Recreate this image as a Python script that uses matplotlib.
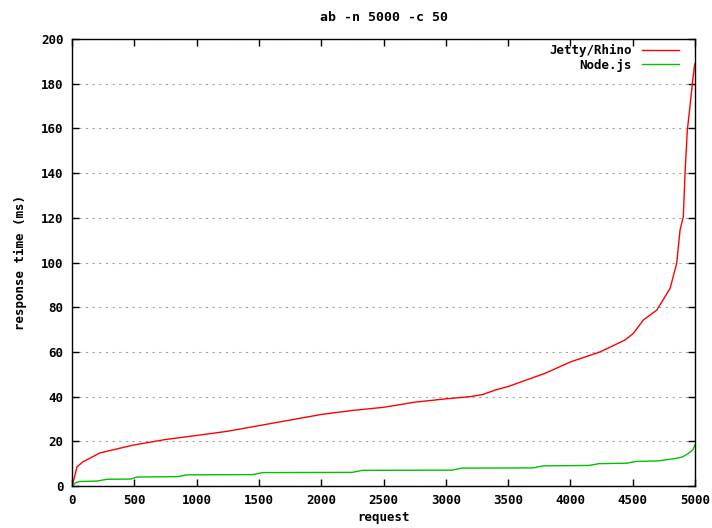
import matplotlib.pyplot as plt

# response time curves (requests sorted by time)
jetty_x = [0, 20, 40, 90, 225, 490, 750, 1027, 1250, 1500, 1750, 2000, 2250, 2500,
           2750, 3000, 3200, 3300, 3400, 3500, 3600, 3800, 4000, 4238, 4438, 4505,
           4586, 4693, 4800, 4853, 4880, 4906, 4920, 4938, 4960, 4982, 4995, 5000]
jetty_y = [0, 4, 8.6, 10.9, 14.8, 18.3, 20.8, 22.8, 24.5, 27, 29.5, 32, 33.8, 35.2,
           37.5, 39, 40, 41, 43, 44.5, 46.5, 50.5, 55.5, 60, 65.3, 68.3,
           74.3, 78.7, 88.4, 99.6, 114.5, 120.5, 140, 159, 170, 181.6, 187.6, 189]

node_x = [0, 30, 60, 200, 280, 470, 520, 850, 920, 1450, 1530, 2250, 2330, 3050,
          3130, 3700, 3780, 4150, 4230, 4450, 4530, 4700, 4780, 4853, 4900, 4947,
          4980, 5000]
node_y = [0, 1.5, 2, 2.2, 3, 3.1, 4, 4.2, 5, 5.1, 6, 6.1, 7, 7.1,
          8, 8.1, 9, 9.2, 10, 10.2, 11, 11.2, 11.8, 12.4, 13, 14.6,
          16, 18.3]

xticks = [0, 500, 1000, 1500, 2000, 2500, 3000, 3500, 4000, 4500, 5000]
yticks = [0, 20, 40, 60, 80, 100, 120, 140, 160, 180, 200]

plt.rcParams['font.family'] = 'DejaVu Sans Mono'
plt.rcParams['font.weight'] = 'bold'
plt.rcParams['font.size'] = 9

fig = plt.figure(figsize=(7.12, 5.28), dpi=100)
ax = fig.add_axes([72 / 712, 42 / 528, 623 / 712, 447 / 528])

ax.plot(jetty_x, jetty_y, color='#ff0000', lw=1, label='Jetty/Rhino')
ax.plot(node_x, node_y, color='#00c000', lw=1, label='Node.js')

ax.set_xlim(0, 5000)
ax.set_ylim(0, 200)
ax.set_xticks(xticks)
ax.set_yticks(yticks)
ax.tick_params(direction='in', top=True, right=True, length=5, width=1, pad=6)
for s in ax.spines.values():
    s.set_linewidth(1)

# gnuplot style dotted grid, horizontal only
ax.yaxis.grid(True, linestyle=(0, (2, 4)), color='#a0a0a0', lw=0.8)
ax.set_axisbelow(True)

ax.set_title('ab -n 5000 -c 50', fontweight='bold', fontsize=9.5, pad=13)
ax.set_xlabel('request', fontweight='bold', labelpad=3)
ax.set_ylabel('response time (ms)', fontweight='bold', labelpad=10)

ax.legend(loc='upper right', bbox_to_anchor=(1 - 7 / 623, 1 + 3.5 / 447),
          frameon=False, markerfirst=False, handlelength=3.0,
          borderaxespad=0.3, labelspacing=0.1, handletextpad=0.8)

plt.savefig('out.png', dpi=100)
